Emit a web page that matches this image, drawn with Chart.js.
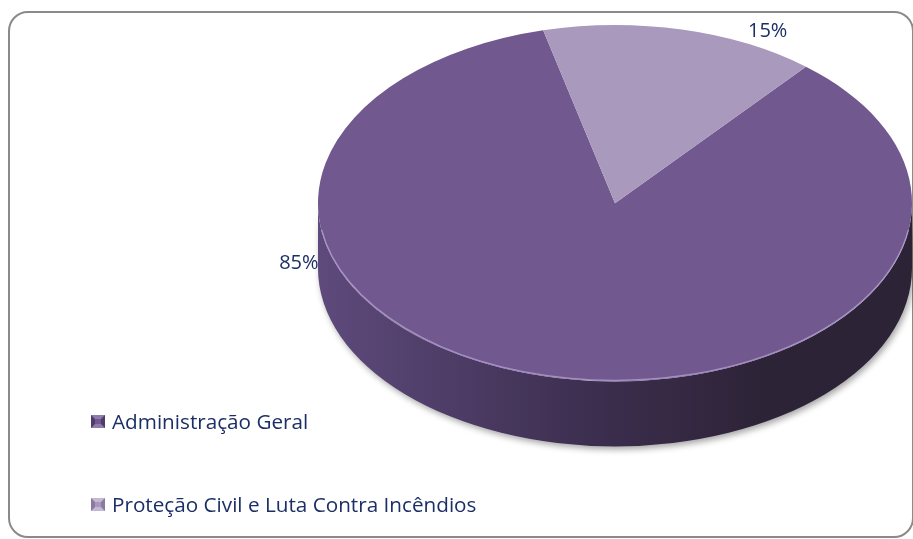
<!DOCTYPE html>
<html>
<head>
<meta charset="utf-8">
<script src="https://cdn.jsdelivr.net/npm/chart.js@4"></script>
<style>
  html, body { margin: 0; padding: 0; background: #fff; }
  #wrap { position: relative; width: 913px; height: 539px; overflow: hidden; }
  #frame { position: absolute; left: 8px; top: 11px; width: 902px; height: 523px;
           border: 2px solid #8a8a8a; border-radius: 20px; }
  #chart { position: absolute; left: 0; top: 0; }
  #legend { position: absolute; left: 91px; top: 407px; font-family: "Open Sans", sans-serif;
            font-size: 20.7px; color: #1b2f66; }
  #legend .item { display: flex; align-items: center; height: 28px; margin-bottom: 55px; }
  #legend .box { width: 14px; height: 13px; margin-right: 7px; box-sizing: border-box;
                 border-style: solid; border-width: 4px; }
</style>
</head>
<body>
<div id="wrap">
  <div id="frame"></div>
  <canvas id="chart" width="913" height="539"></canvas>
  <div id="legend"></div>
</div>
<script>
// data
const categories = ['Administração Geral', 'Proteção Civil e Luta Contra Incêndios'];
const shares = [85, 15];
const topColors = ['#71588f', '#a999bd'];
const sideColors = [['#5e4a7c', '#3d2f50', '#2d2337'], ['#8e7ea5', '#6f6286', '#5a4f6e']];
const boxEdges = [['#8f79ad', '#4f3d69'], ['#c4b8d3', '#8a7aa0']];

// where each percent label sits, angle in degrees round the pie and distance as a factor of the radius
const labelAngles = [162.5, -62];
const labelDist = [1.116, 1.095];

// fits the flat chart.js circle onto a tilted ellipse inside the chart area
function pieGeometry(chart, opts) {
  const ca = chart.chartArea;
  const arc = chart.getDatasetMeta(0).data[0];
  const rx = (ca.right - ca.left) / 2;
  const ry = rx * opts.tilt;
  return { cx: (ca.left + ca.right) / 2, cy: ca.top + ry, rx: rx, ry: ry,
           x0: arc.x, y0: arc.y, r0: arc.outerRadius, depth: opts.depth };
}

const pie3d = {
  id: 'pie3d',
  beforeDatasetsDraw(chart, args, opts) {
    const ctx = chart.ctx;
    const g = pieGeometry(chart, opts);
    const meta = chart.getDatasetMeta(0);

    // side wall, only the front half shows
    meta.data.forEach((arc, i) => {
      const a = arc.startAngle, b = arc.endAngle;
      for (let k = -1; k <= 1; k++) {
        const lo = Math.max(a, 2 * Math.PI * k);
        const hi = Math.min(b, 2 * Math.PI * k + Math.PI);
        if (hi <= lo) continue;
        const grad = ctx.createLinearGradient(g.cx - g.rx, 0, g.cx + g.rx, 0);
        grad.addColorStop(0, sideColors[i][0]);
        grad.addColorStop(0.45, sideColors[i][1]);
        grad.addColorStop(0.75, sideColors[i][2]);
        grad.addColorStop(1, sideColors[i][2]);
        ctx.save();
        ctx.shadowColor = 'rgba(0,0,0,0.35)';
        ctx.shadowBlur = 6;
        ctx.shadowOffsetX = 2;
        ctx.shadowOffsetY = 3;
        ctx.beginPath();
        ctx.ellipse(g.cx, g.cy, g.rx, g.ry, 0, lo, hi);
        ctx.ellipse(g.cx, g.cy + g.depth, g.rx, g.ry, 0, hi, lo, true);
        ctx.closePath();
        ctx.fillStyle = grad;
        ctx.fill();
        ctx.restore();
      }
    });

    // squash the top face
    ctx.save();
    ctx.translate(g.cx, g.cy);
    ctx.scale(g.rx / g.r0, g.ry / g.r0);
    ctx.translate(-g.x0, -g.y0);
  },
  afterDatasetsDraw(chart, args, opts) {
    const ctx = chart.ctx;
    ctx.restore();
    const g = pieGeometry(chart, opts);

    // light rim on the front edge
    ctx.save();
    ctx.beginPath();
    ctx.ellipse(g.cx, g.cy - 1, g.rx, g.ry, 0, 0.05 * Math.PI, 0.95 * Math.PI);
    ctx.strokeStyle = 'rgba(205,190,235,0.55)';
    ctx.lineWidth = 1.5;
    ctx.stroke();
    ctx.restore();

    // percent labels
    const data = chart.data.datasets[0].data;
    const total = data.reduce((s, v) => s + v, 0);
    ctx.save();
    ctx.font = '20px "Open Sans", sans-serif';
    ctx.fillStyle = '#1b2f66';
    ctx.textAlign = 'center';
    ctx.textBaseline = 'middle';
    data.forEach((v, i) => {
      const t = labelAngles[i] * Math.PI / 180;
      const x = g.cx + g.rx * labelDist[i] * Math.cos(t);
      const y = g.cy + g.ry * labelDist[i] * Math.sin(t);
      ctx.fillText(Math.round(v / total * 100) + '%', x, y);
    });
    ctx.restore();
  }
};

// legend as html, filled from the chart's own legend items
const htmlLegend = {
  id: 'htmlLegend',
  afterUpdate(chart) {
    const items = chart.options.plugins.legend.labels.generateLabels(chart);
    document.getElementById('legend').innerHTML = items.map((it, i) =>
      `<div class="item"><span class="box" style="background:${it.fillStyle};border-color:${boxEdges[i][0]} ${boxEdges[i][1]}"></span>${it.text}</div>`
    ).join('');
  }
};

const myChart = new Chart(document.getElementById('chart'), {
  type: 'pie',
  data: {
    labels: categories,
    datasets: [{
      data: shares,
      backgroundColor: topColors,
      borderWidth: 0
    }]
  },
  options: {
    responsive: false,
    animation: false,
    rotation: 40,
    layout: { padding: { left: 318, right: 1, top: 25, bottom: 0 } },
    plugins: {
      legend: { display: false },
      tooltip: { enabled: false },
      pie3d: { tilt: 0.6, depth: 65 }
    }
  },
  plugins: [pie3d, htmlLegend]
});
</script>
</body>
</html>
